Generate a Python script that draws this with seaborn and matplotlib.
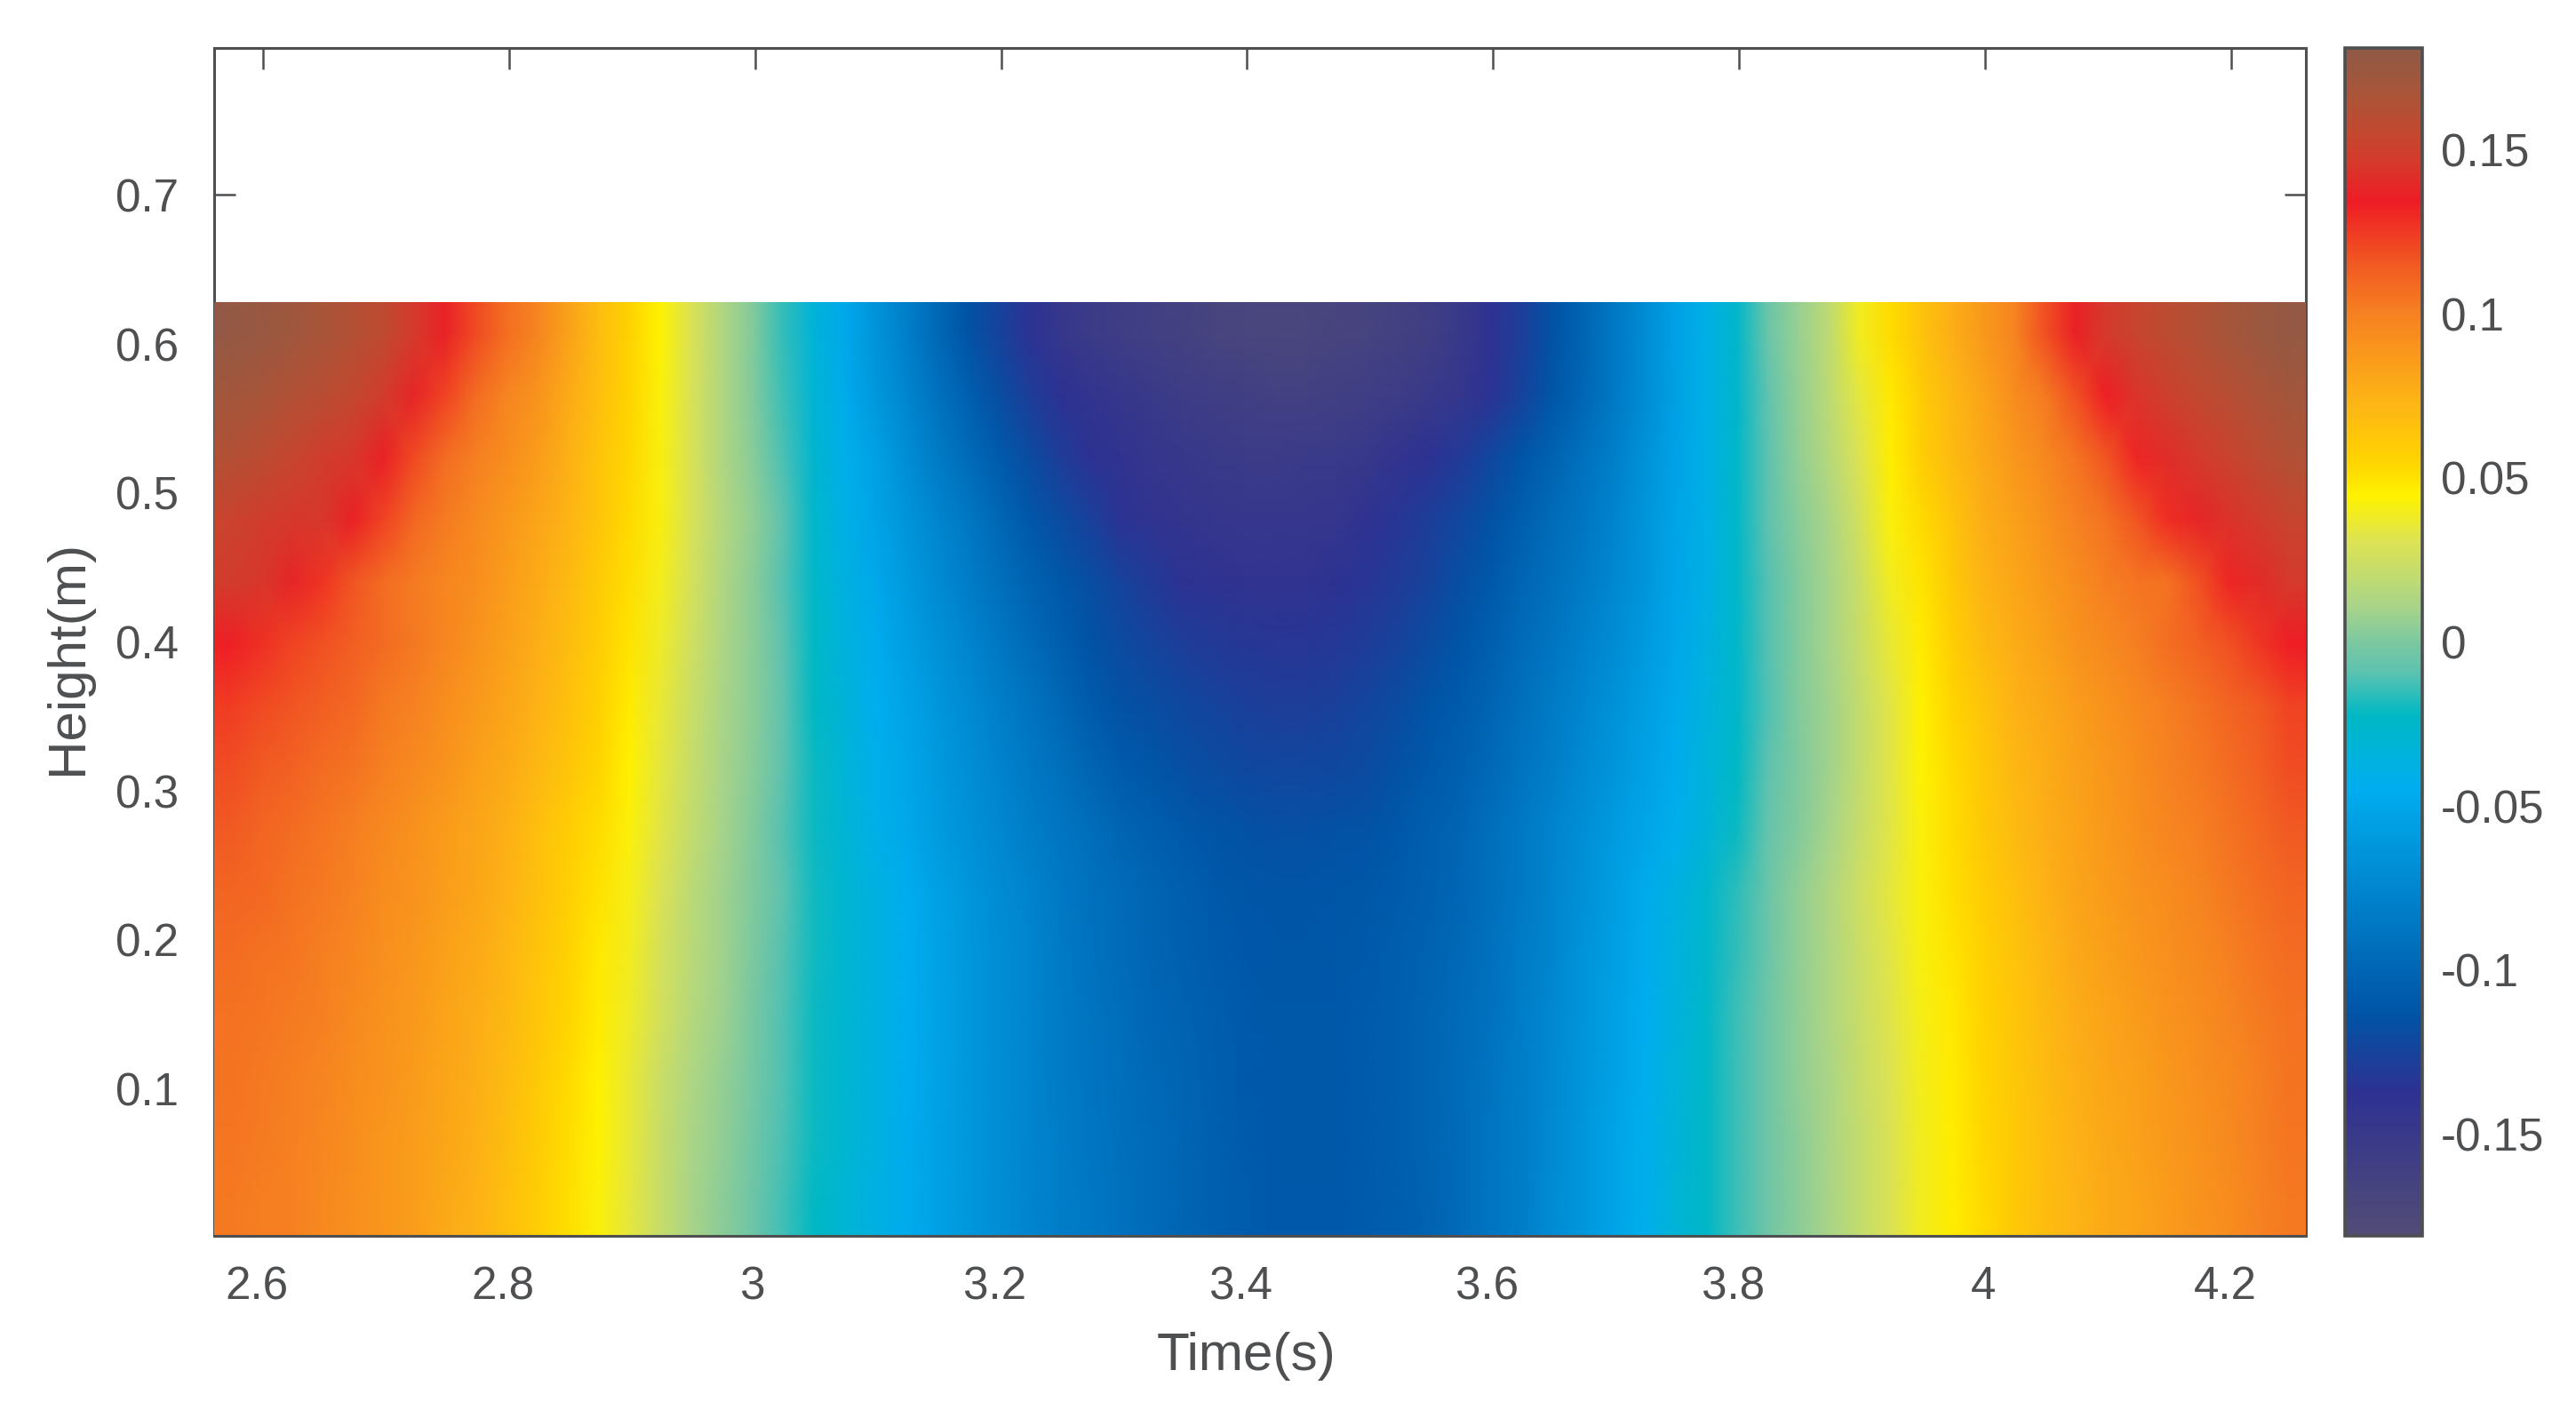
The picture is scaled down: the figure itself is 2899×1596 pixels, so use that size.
import matplotlib
matplotlib.use('Agg')
import matplotlib.pyplot as plt
from matplotlib.colors import LinearSegmentedColormap
from matplotlib.patches import Rectangle
from matplotlib.transforms import ScaledTranslation
import numpy as np
import pandas as pd
import seaborn as sns

# values, one list per height band (bottom band first)
h_021 = [.103,.101,.100,.096,.092,.089,.085,.079,.074,.067,.059,.051,.043,.034,.022,.011,.004,-.004,-.013,-.022,-.030,-.038,-.046,-.054,-.061,-.069,-.076,-.082,-.086,-.091,-.096,-.100,-.104,-.107,-.110,-.110,-.110,-.108,-.106,-.102,-.096,-.088,-.081,-.071,-.062,-.052,-.043,-.032,-.024,-.014,-.004,.004,.011,.021,.030,.039,.046,.053,.061,.068,.073,.078,.082,.086,.090,.094,.099,.103]
h_063 = [.104,.102,.100,.097,.093,.089,.085,.080,.075,.068,.060,.052,.044,.035,.023,.012,.005,-.003,-.012,-.021,-.029,-.037,-.046,-.054,-.061,-.069,-.076,-.082,-.087,-.092,-.096,-.100,-.104,-.108,-.110,-.111,-.110,-.108,-.105,-.101,-.096,-.088,-.081,-.072,-.062,-.052,-.043,-.033,-.024,-.014,-.004,.004,.012,.021,.030,.039,.046,.054,.061,.068,.074,.079,.083,.087,.091,.095,.100,.104]
h_104 = [.105,.103,.101,.098,.094,.090,.086,.081,.076,.069,.061,.053,.045,.036,.024,.013,.006,-.002,-.011,-.021,-.029,-.037,-.045,-.053,-.061,-.069,-.076,-.083,-.088,-.093,-.097,-.101,-.105,-.109,-.110,-.111,-.110,-.108,-.105,-.101,-.095,-.089,-.081,-.073,-.063,-.054,-.044,-.034,-.024,-.014,-.004,.005,.012,.022,.031,.040,.047,.055,.062,.069,.075,.080,.084,.088,.092,.096,.101,.105]
h_146 = [.106,.104,.102,.100,.095,.091,.087,.082,.077,.071,.063,.055,.047,.038,.027,.016,.008,-.001,-.011,-.021,-.029,-.037,-.045,-.053,-.061,-.069,-.076,-.083,-.089,-.094,-.099,-.102,-.106,-.109,-.111,-.111,-.110,-.108,-.105,-.101,-.096,-.090,-.082,-.074,-.064,-.055,-.045,-.035,-.025,-.014,-.004,.005,.013,.023,.032,.041,.048,.056,.063,.070,.077,.082,.086,.090,.094,.098,.102,.106]
h_188 = [.108,.106,.104,.101,.097,.092,.088,.083,.078,.072,.064,.056,.048,.039,.028,.017,.009,0,-.010,-.020,-.029,-.037,-.045,-.053,-.061,-.069,-.076,-.084,-.090,-.095,-.100,-.104,-.108,-.110,-.112,-.112,-.111,-.109,-.106,-.102,-.097,-.091,-.083,-.075,-.065,-.056,-.046,-.036,-.026,-.015,-.005,.005,.013,.024,.033,.042,.049,.057,.064,.072,.079,.084,.088,.092,.096,.100,.104,.108]
h_230 = [.111,.109,.106,.103,.099,.094,.090,.085,.080,.074,.066,.058,.050,.041,.030,.018,.009,.001,-.009,-.020,-.029,-.037,-.045,-.054,-.062,-.070,-.077,-.085,-.091,-.096,-.101,-.105,-.109,-.112,-.113,-.113,-.112,-.111,-.108,-.104,-.099,-.092,-.085,-.076,-.067,-.057,-.047,-.037,-.027,-.016,-.005,.005,.014,.025,.034,.043,.051,.059,.066,.074,.081,.086,.090,.094,.098,.103,.107,.111]
h_272 = [.115,.111,.108,.104,.101,.096,.091,.086,.081,.075,.067,.059,.052,.043,.033,.021,.010,.002,-.010,-.021,-.031,-.041,-.049,-.058,-.066,-.074,-.081,-.087,-.094,-.101,-.105,-.109,-.113,-.115,-.116,-.116,-.115,-.114,-.110,-.105,-.100,-.093,-.085,-.077,-.068,-.059,-.051,-.043,-.033,-.021,-.007,.002,.010,.022,.033,.043,.052,.061,.069,.076,.082,.087,.092,.097,.101,.105,.110,.115]
h_313 = [.119,.115,.112,.108,.105,.100,.095,.090,.084,.078,.071,.063,.055,.045,.034,.022,.011,.003,-.009,-.021,-.032,-.042,-.050,-.060,-.068,-.077,-.085,-.092,-.101,-.108,-.112,-.116,-.119,-.121,-.122,-.122,-.121,-.119,-.115,-.109,-.104,-.097,-.089,-.081,-.072,-.063,-.054,-.046,-.034,-.023,-.009,.001,.009,.021,.033,.044,.053,.062,.071,.077,.083,.088,.094,.099,.103,.108,.113,.119]
h_355 = [.124,.120,.116,.113,.109,.103,.099,.093,.087,.081,.074,.066,.057,.047,.036,.024,.012,.004,-.008,-.022,-.033,-.044,-.052,-.062,-.071,-.080,-.089,-.098,-.108,-.115,-.118,-.121,-.124,-.127,-.128,-.128,-.126,-.123,-.119,-.113,-.108,-.100,-.092,-.084,-.075,-.066,-.057,-.048,-.035,-.025,-.011,.002,.009,.021,.033,.045,.055,.064,.074,.079,.085,.090,.096,.101,.106,.111,.115,.122]
h_397 = [.133,.128,.122,.118,.113,.108,.103,.097,.090,.084,.076,.068,.059,.049,.038,.026,.013,.004,-.009,-.023,-.035,-.046,-.056,-.066,-.076,-.086,-.096,-.105,-.114,-.120,-.124,-.128,-.131,-.133,-.134,-.134,-.132,-.129,-.125,-.119,-.113,-.105,-.096,-.088,-.079,-.070,-.060,-.050,-.037,-.025,-.010,.002,.010,.023,.036,.047,.058,.069,.077,.083,.090,.095,.101,.107,.112,.118,.126,.134]
h_439 = [.148,.145,.138,.127,.116,.108,.102,.097,.093,.086,.078,.070,.060,.051,.040,.028,.014,.004,-.010,-.025,-.037,-.049,-.060,-.071,-.082,-.092,-.102,-.111,-.118,-.125,-.131,-.137,-.139,-.141,-.141,-.140,-.137,-.134,-.130,-.125,-.117,-.109,-.100,-.092,-.084,-.074,-.063,-.051,-.039,-.025,-.010,.002,.010,.024,.039,.049,.061,.073,.080,.087,.094,.101,.104,.106,.118,.131,.140,.147]
h_481 = [.152,.149,.146,.145,.137,.122,.110,.102,.095,.088,.081,.073,.063,.053,.042,.029,.015,.005,-.009,-.026,-.040,-.052,-.064,-.075,-.086,-.098,-.110,-.119,-.127,-.136,-.140,-.143,-.145,-.147,-.147,-.147,-.145,-.139,-.134,-.128,-.122,-.115,-.105,-.095,-.087,-.077,-.064,-.052,-.039,-.025,-.009,.003,.012,.027,.043,.053,.064,.076,.083,.091,.099,.105,.116,.129,.138,.143,.148,.153]
h_522 = [.163,.159,.154,.149,.145,.137,.120,.108,.100,.094,.086,.075,.064,.054,.042,.029,.014,.003,-.012,-.028,-.042,-.054,-.069,-.083,-.095,-.108,-.119,-.129,-.137,-.141,-.145,-.148,-.151,-.153,-.153,-.152,-.151,-.148,-.142,-.137,-.131,-.122,-.113,-.102,-.091,-.080,-.066,-.053,-.040,-.025,-.009,.005,.016,.031,.046,.058,.069,.079,.088,.096,.104,.116,.131,.141,.147,.152,.158,.164]
h_564 = [.171,.168,.164,.160,.155,.148,.138,.122,.108,.098,.090,.078,.067,.055,.043,.029,.014,.002,-.014,-.031,-.047,-.061,-.075,-.090,-.104,-.118,-.128,-.137,-.142,-.147,-.151,-.155,-.158,-.160,-.162,-.162,-.160,-.158,-.155,-.150,-.145,-.136,-.125,-.112,-.099,-.085,-.070,-.055,-.040,-.026,-.008,.006,.018,.034,.048,.060,.071,.082,.093,.102,.118,.133,.144,.150,.156,.161,.166,.171]
h_606 = [.178,.176,.172,.168,.163,.157,.147,.137,.120,.107,.098,.083,.068,.056,.044,.030,.014,.002,-.015,-.033,-.049,-.065,-.080,-.097,-.114,-.125,-.136,-.147,-.153,-.157,-.161,-.164,-.167,-.169,-.170,-.170,-.168,-.166,-.163,-.159,-.150,-.139,-.128,-.115,-.101,-.086,-.070,-.054,-.040,-.026,-.005,.007,.019,.039,.052,.065,.076,.087,.098,.118,.136,.147,.153,.159,.164,.169,.174,.178]

x_ticks = [2.6, 2.8, 3.0, 3.2, 3.4, 3.6, 3.8, 4.0, 4.2]
x_labels = ['2.6', '2.8', '3', '3.2', '3.4', '3.6', '3.8', '4', '4.2']
y_ticks = [0.1, 0.2, 0.3, 0.4, 0.5, 0.6, 0.7]
y_labels = ['0.1', '0.2', '0.3', '0.4', '0.5', '0.6', '0.7']
cb_ticks = [0.15, 0.1, 0.05, 0, -0.05, -0.1, -0.15]
cb_labels = ['0.15', '0.1', '0.05', '0', '-0.05', '-0.1', '-0.15']

T0, T_STEP = 2.5603, 0.025006
H_TOP, H_STEP = 0.6281, 0.04178
INK = '#4d4f51'

stops = [(-.181, '#524c76'), (-.1375, '#2e3192'), (-.1136, '#0054a6'), (-.0446, '#00aeef'),
         (-.0224, '#00b8c4'), (-.0093, '#5cc2b0'), (0, '#7cc8a0'), (.0104, '#a8d48a'),
         (.031, '#dde352'), (.0445, '#fff200'), (.055, '#ffd400'), (.0727, '#fdb515'),
         (.1, '#f68121'), (.115, '#f15a22'), (.1345, '#ee1c25'), (.145, '#d9362b'),
         (.155, '#c4482f'), (.168, '#a85539'), (.181, '#8f5a47')]
cmap = LinearSegmentedColormap.from_list('wave', [((v + .181) / .362, c) for v, c in stops], N=512)

sns.set_theme(style='white')
plt.rcParams['font.family'] = ['Liberation Sans', 'DejaVu Sans']
plt.rcParams['text.color'] = INK

# top band first, the way heatmap wants it
table = np.array([h_606, h_564, h_522, h_481, h_439, h_397, h_355, h_313,
                  h_272, h_230, h_188, h_146, h_104, h_063, h_021])
# gouraud puts values on nodes, so repeat the border to reach the axes edge
df = pd.DataFrame(np.pad(table, 1, mode='edge'))
n_rows = table.shape[0]
n_cols = table.shape[1]

W, H = 2899, 1596
fig = plt.figure(figsize=(W / 200, H / 200), dpi=200)
ax = fig.add_axes([241 / W, 1 - 1391 / H, 2354 / W, 1337 / H])
cax = fig.add_axes([2639 / W, 1 - 1391 / H, 87 / W, 1337 / H])

sns.heatmap(df, ax=ax, cbar_ax=cax, cmap=cmap, vmin=-.181, vmax=.181,
            xticklabels=False, yticklabels=False, shading='gouraud')
mesh = ax.collections[0]
mesh.set_clip_path(Rectangle((0.5, 0.5), n_cols, n_rows, transform=ax.transData))

# white strip above the data, axis runs on to about 0.798
ax.set_xlim(0.5, n_cols + 0.5)
ax.set_ylim(n_rows + 0.5, n_rows + 0.5 - 1337 / (H_STEP * 1677))
ax.set_xticks([(t - T0) / T_STEP + 0.5 for t in x_ticks], labels=x_labels)
ax.set_yticks([(H_TOP - v) / H_STEP + 0.5 for v in y_ticks], labels=y_labels)
ax.set_axisbelow(True)
ax.tick_params(axis='x', direction='in', top=True, bottom=True, length=8.6, width=0.9,
               color=INK, labelcolor=INK, labelsize=18.4, pad=12)
ax.tick_params(axis='y', direction='in', left=True, right=True, length=8.6, width=0.9,
               color=INK, labelcolor=INK, labelsize=18.4, pad=14.5, labelrotation=0)
for lab in ax.get_xticklabels():
    dx = -2 if lab.get_text() in ('3', '4') else -7
    lab.set_transform(lab.get_transform() + ScaledTranslation(dx / 200, 0, fig.dpi_scale_trans))

for name, sp in ax.spines.items():
    sp.set_visible(True)
    sp.set_color(INK)
    sp.set_linewidth(1.1)
ax.spines['left'].set_zorder(0.6)
ax.spines['right'].set_zorder(0.6)

ax.set_xlabel('Time(s)', fontsize=21.7, color=INK, va='center')
ax.set_ylabel('Height(m)', fontsize=21.7, color=INK, va='center')
ax.xaxis.set_label_coords(0.4936, -0.101)
ax.yaxis.set_label_coords(-0.070, 0.487)

cb = mesh.colorbar
cb.set_ticks(cb_ticks, labels=cb_labels)
cb.outline.set_visible(True)
cb.outline.set_edgecolor(INK)
cb.outline.set_linewidth(1.3)
cax.tick_params(axis='y', direction='in', right=True, left=False, length=5, width=0.9,
                color=INK, labelcolor=INK, labelsize=18.4, pad=7.5)

fig.savefig('out.png', dpi=200, facecolor='white')
